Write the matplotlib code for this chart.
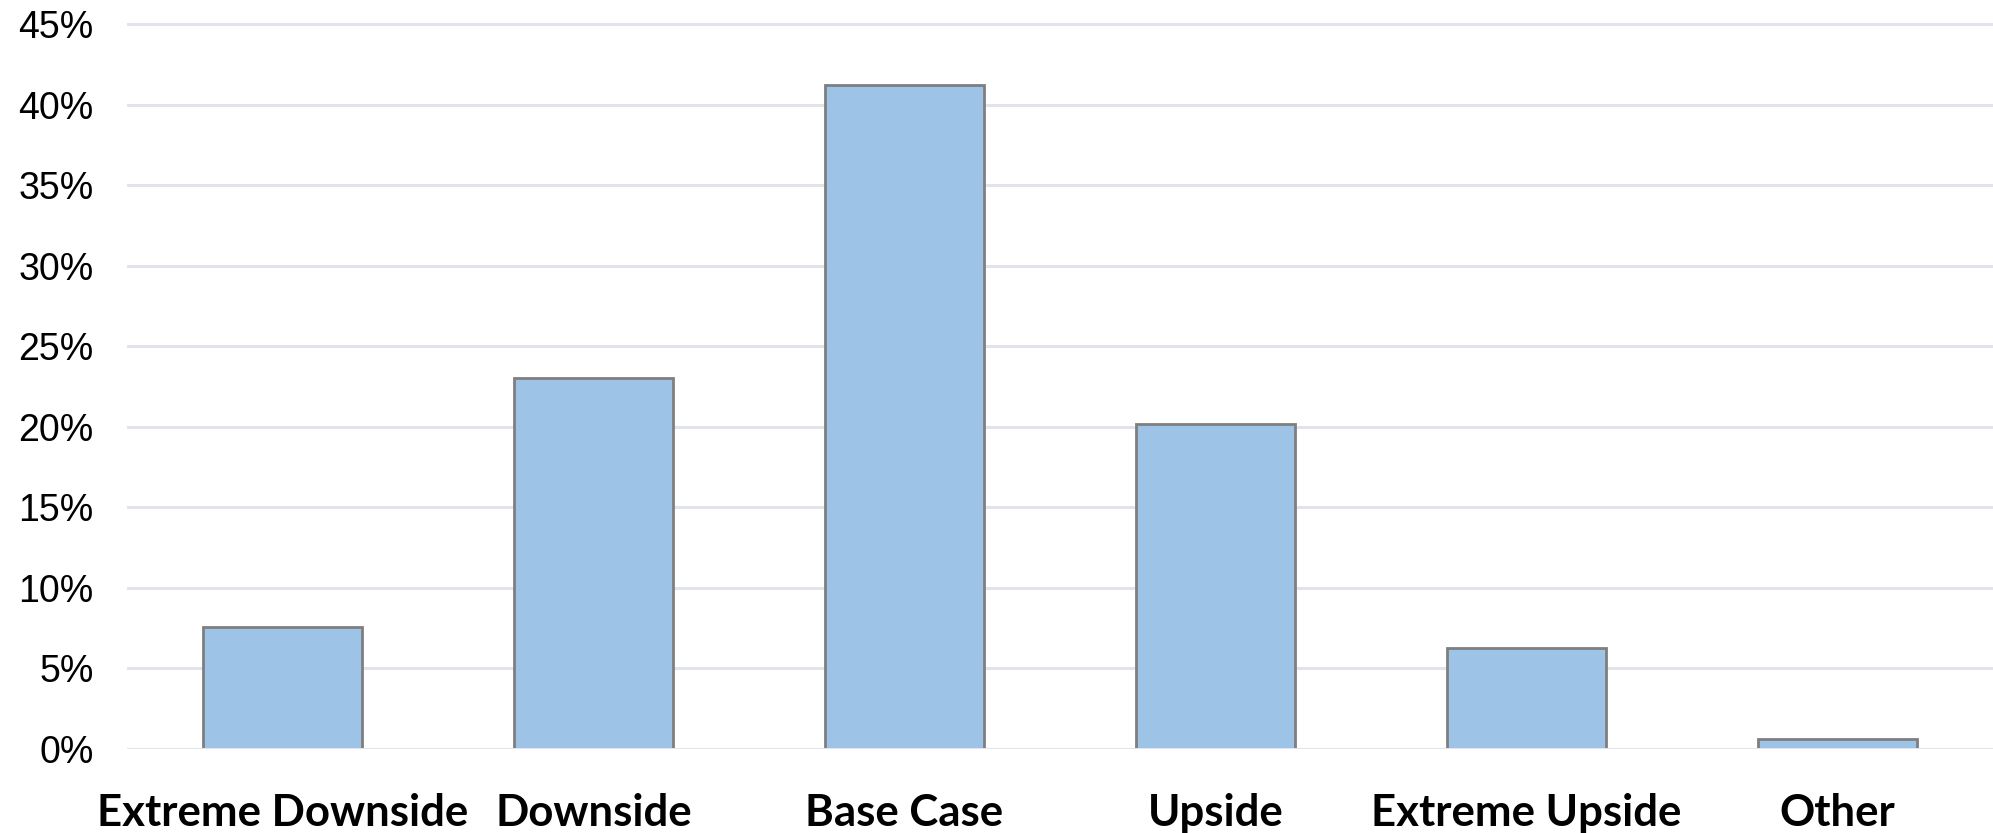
import matplotlib
matplotlib.use("Agg")
import matplotlib.pyplot as plt
import matplotlib.patheffects as pe
from matplotlib.ticker import MultipleLocator, FuncFormatter

scenarios = ["Extreme Downside", "Downside", "Base Case", "Upside", "Extreme Upside", "Other"]
probabilities = [0.0757, 0.230, 0.412, 0.202, 0.063, 0.0062]

fig = plt.figure(figsize=(19.93, 8.33), dpi=100)
ax = fig.add_axes([0.0637, 0.1008, 0.9363, 0.8800])

bars = ax.bar(range(len(scenarios)), probabilities, width=0.51,
              color="#9DC3E6", edgecolor="#7F7F7F", linewidth=2, zorder=3)
for b in bars:
    b.set_path_effects([pe.SimplePatchShadow(offset=(0, -1), shadow_rgbFace="#000000", alpha=0.12),
                        pe.Normal()])

ax.set_xlim(-0.5, len(scenarios) - 0.5)
ax.set_ylim(0, 0.455)
ax.yaxis.set_major_locator(MultipleLocator(0.05))
ax.yaxis.set_major_formatter(FuncFormatter(lambda v, _: f"{round(v * 100):d}%"))
ax.grid(axis="y", color="#E1E4EC", linewidth=2.2, zorder=0)
ax.axhline(0, color="#E1E4EC", linewidth=2.2, zorder=4)

for s in ax.spines.values():
    s.set_visible(False)

ax.tick_params(axis="y", length=0, pad=24, labelsize=27)
for t in ax.get_yticklabels():
    t.set_fontfamily("Liberation Sans")
ax.set_xticks(range(len(scenarios)))
ax.set_xticklabels(scenarios, fontfamily="Lato", fontweight="bold", fontsize=31.5)
ax.tick_params(axis="x", length=0, pad=32)

fig.savefig("out.png", dpi=100)
